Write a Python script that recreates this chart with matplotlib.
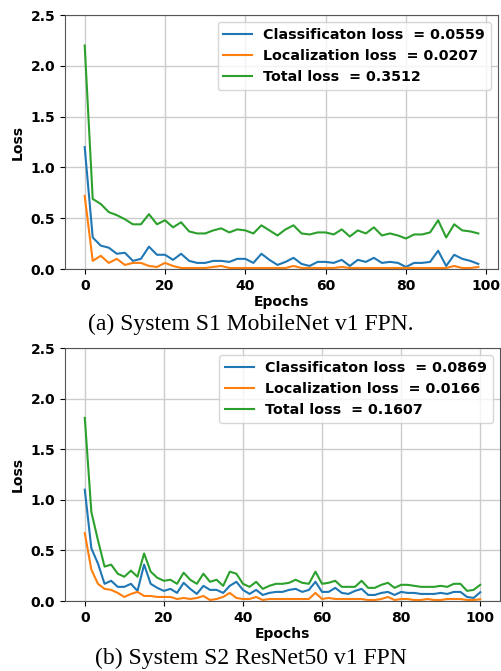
import matplotlib.pyplot as plt
import numpy as np

# --- System S1 MobileNet v1 FPN (every 2nd epoch) ---
ep_a = np.arange(0, 100, 2)
cls_a = [1.20, 0.31, 0.23, 0.21, 0.15, 0.16, 0.08, 0.10, 0.22, 0.14,
         0.14, 0.09, 0.15, 0.08, 0.06, 0.06, 0.08, 0.08, 0.07, 0.10,
         0.10, 0.06, 0.15, 0.09, 0.04, 0.07, 0.11, 0.05, 0.03, 0.07,
         0.07, 0.06, 0.09, 0.03, 0.09, 0.07, 0.11, 0.06, 0.07, 0.06,
         0.02, 0.06, 0.06, 0.07, 0.18, 0.03, 0.14, 0.10, 0.08, 0.05]
loc_a = [0.72, 0.08, 0.13, 0.06, 0.10, 0.04, 0.06, 0.06, 0.03, 0.02,
         0.06, 0.03, 0.01, 0.01, 0.01, 0.01, 0.02, 0.03, 0.01, 0.01,
         0.01, 0.01, 0.01, 0.01, 0.01, 0.01, 0.03, 0.01, 0.01, 0.01,
         0.01, 0.01, 0.02, 0.01, 0.01, 0.01, 0.01, 0.01, 0.01, 0.01,
         0.01, 0.01, 0.01, 0.01, 0.01, 0.01, 0.03, 0.01, 0.01, 0.02]
tot_a = [2.20, 0.69, 0.64, 0.56, 0.53, 0.49, 0.44, 0.44, 0.54, 0.44,
         0.48, 0.41, 0.46, 0.37, 0.35, 0.35, 0.38, 0.40, 0.36, 0.39,
         0.38, 0.35, 0.43, 0.38, 0.33, 0.39, 0.43, 0.35, 0.34, 0.36,
         0.36, 0.34, 0.39, 0.32, 0.38, 0.35, 0.41, 0.33, 0.35, 0.33,
         0.30, 0.34, 0.34, 0.36, 0.48, 0.31, 0.44, 0.38, 0.37, 0.35]

# --- System S2 ResNet50 v1 FPN (61 points over 0..100) ---
ep_b = np.linspace(0, 100, 61)
cls_b = [1.10, 0.52, 0.37, 0.17, 0.20, 0.14, 0.14, 0.17, 0.10, 0.36,
         0.17, 0.13, 0.10, 0.12, 0.08, 0.18, 0.12, 0.07, 0.15, 0.11,
         0.11, 0.08, 0.15, 0.19, 0.11, 0.07, 0.11, 0.06, 0.08, 0.09,
         0.09, 0.11, 0.12, 0.09, 0.11, 0.19, 0.09, 0.09, 0.13, 0.08,
         0.07, 0.10, 0.12, 0.06, 0.06, 0.08, 0.09, 0.06, 0.09, 0.08,
         0.08, 0.07, 0.07, 0.07, 0.08, 0.07, 0.09, 0.09, 0.04, 0.03,
         0.087]
loc_b = [0.67, 0.31, 0.17, 0.12, 0.11, 0.08, 0.04, 0.07, 0.09, 0.05,
         0.05, 0.04, 0.04, 0.04, 0.02, 0.03, 0.02, 0.03, 0.05, 0.01,
         0.02, 0.04, 0.08, 0.03, 0.02, 0.02, 0.04, 0.01, 0.02, 0.02,
         0.02, 0.02, 0.02, 0.02, 0.02, 0.08, 0.02, 0.03, 0.02, 0.02,
         0.02, 0.02, 0.02, 0.01, 0.01, 0.02, 0.04, 0.01, 0.02, 0.02,
         0.01, 0.01, 0.02, 0.01, 0.01, 0.02, 0.02, 0.02, 0.01, 0.01,
         0.017]
tot_b = [1.81, 0.88, 0.60, 0.34, 0.36, 0.27, 0.24, 0.30, 0.24, 0.47,
         0.29, 0.23, 0.20, 0.21, 0.17, 0.28, 0.21, 0.17, 0.27, 0.19,
         0.21, 0.15, 0.29, 0.27, 0.17, 0.14, 0.19, 0.12, 0.15, 0.17,
         0.17, 0.18, 0.21, 0.18, 0.17, 0.29, 0.17, 0.18, 0.20, 0.14,
         0.14, 0.14, 0.20, 0.13, 0.13, 0.16, 0.18, 0.13, 0.16, 0.16,
         0.15, 0.14, 0.14, 0.14, 0.15, 0.14, 0.17, 0.17, 0.10, 0.11,
         0.16]

labels_a = ["Classificaton loss  = 0.0559", "Localization loss  = 0.0207", "Total loss  = 0.3512"]
labels_b = ["Classificaton loss  = 0.0869", "Localization loss  = 0.0166", "Total loss  = 0.1607"]
captions = ["(a) System S1 MobileNet v1 FPN.", "(b) System S2 ResNet50 v1 FPN"]

fig = plt.figure(figsize=(5.02, 6.71), dpi=100)
ax1 = fig.add_axes([0.1295, 0.5991, 0.8625, 0.3785])
ax2 = fig.add_axes([0.1295, 0.1043, 0.8665, 0.3770])

panels = [(ax1, ep_a, cls_a, loc_a, tot_a, labels_a),
          (ax2, ep_b, cls_b, loc_b, tot_b, labels_b)]
for ax, ep, c, l, t, labs in panels:
    ax.plot(ep, c, color='tab:blue', label=labs[0])
    ax.plot(ep, l, color='tab:orange', label=labs[1])
    ax.plot(ep, t, color='tab:green', label=labs[2])
    ax.set_ylim(0, 2.5)
    ax.set_yticks([0, 0.5, 1.0, 1.5, 2.0, 2.5])
    ax.set_xticks([0, 20, 40, 60, 80, 100])
    ax.grid(True, color='#cccccc', linewidth=1)
    ax.set_xlabel("Epochs", fontsize=10, fontweight='bold', labelpad=1.5)
    ax.set_ylabel("Loss", fontsize=10, fontweight='bold')
    ax.tick_params(labelsize=10)
    for tl in ax.get_xticklabels() + ax.get_yticklabels():
        tl.set_fontweight('bold')
    leg = ax.legend(loc='upper right', prop={'weight': 'bold', 'size': 10.3})
    for s in ax.spines.values():
        s.set_color('#555555')

fig.text(0.5, 1 - 324 / 671, captions[0], ha='center', va='center',
         family='Liberation Serif', fontsize=17)
fig.text(0.5, 1 - 658 / 671, captions[1], ha='center', va='center',
         family='Liberation Serif', fontsize=17)

fig.savefig("out.png", dpi=100)
